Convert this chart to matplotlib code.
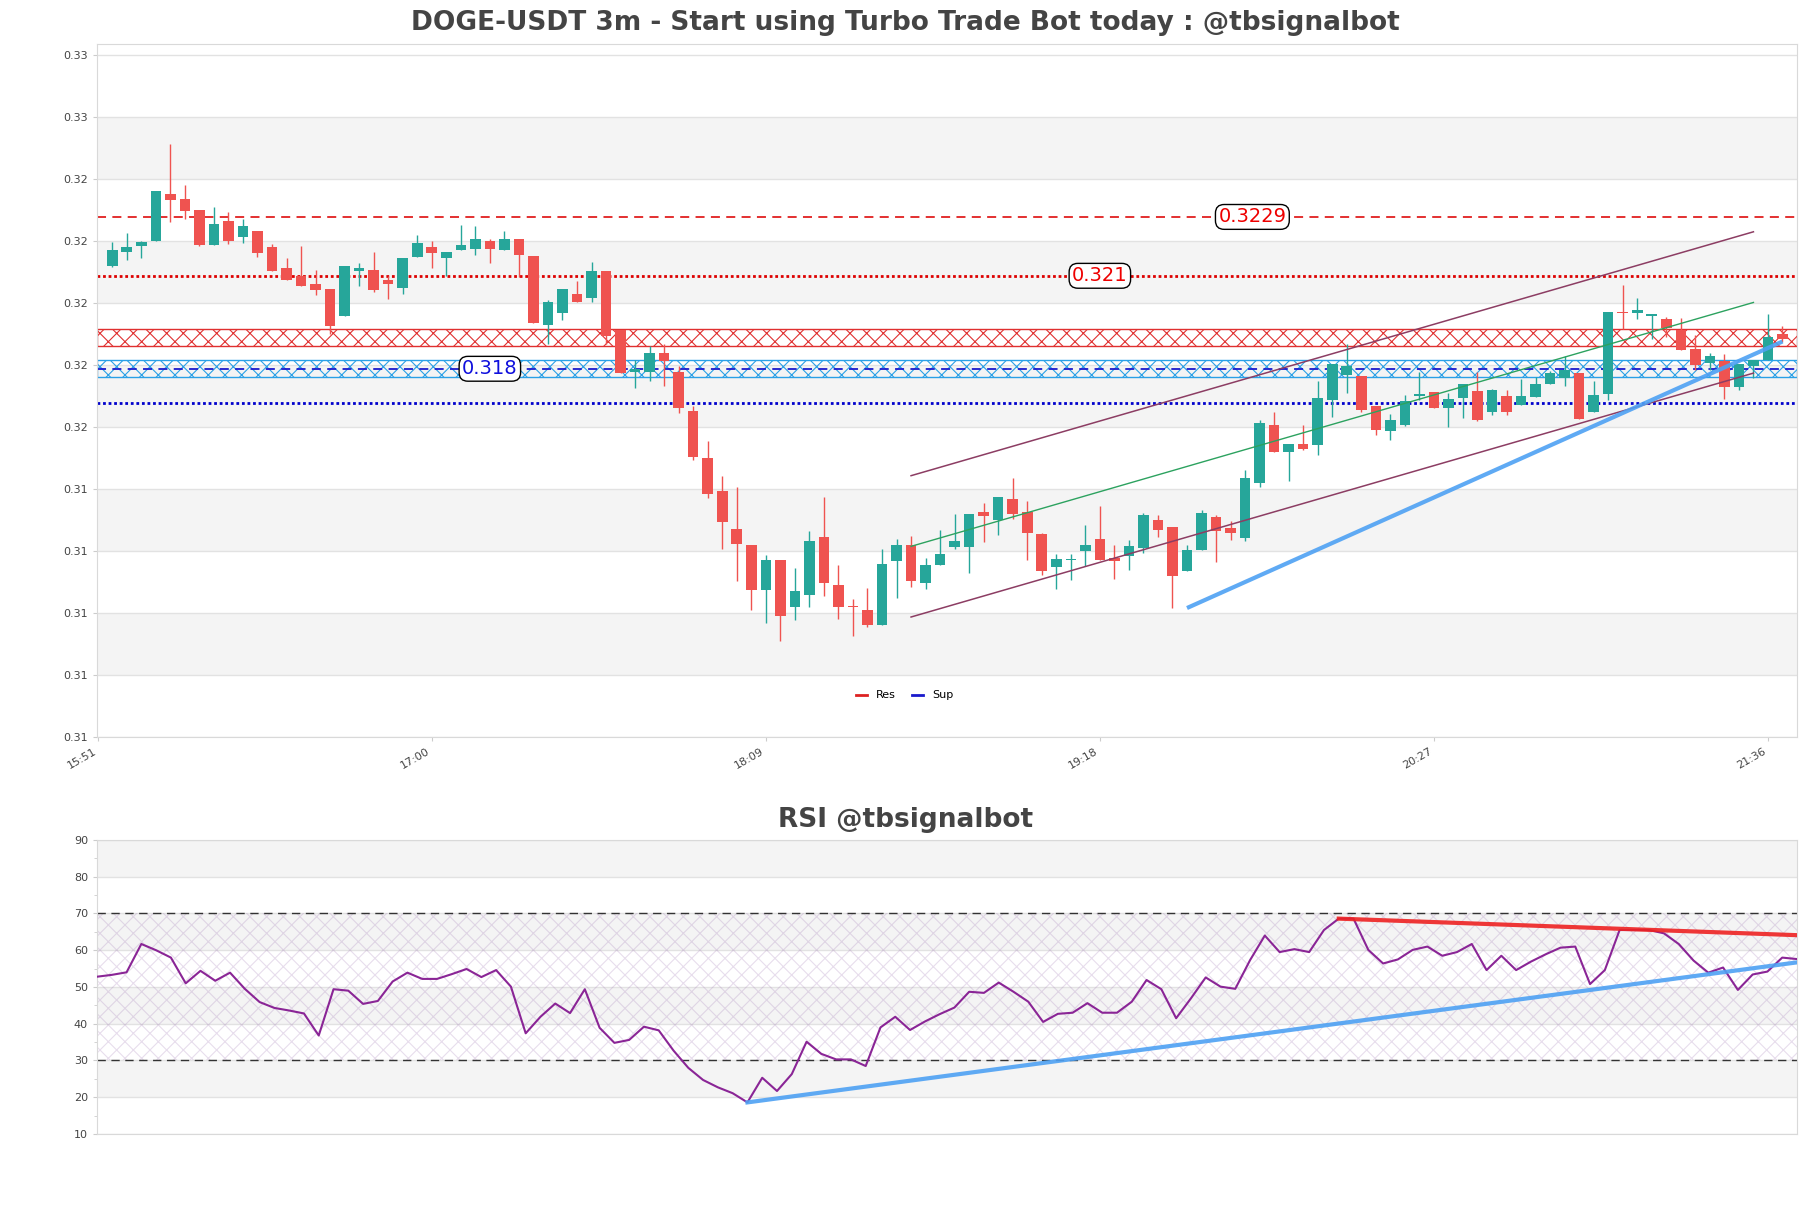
import numpy as np
import matplotlib.pyplot as plt
from matplotlib.lines import Line2D

# 3m candles, 15:54 .. 21:39 (116 bars)
opens = [0.32132, 0.32178, 0.32195, 0.32211, 0.32365, 0.32348, 0.32313, 0.32201, 0.32276, 0.32224,
         0.32245, 0.32193, 0.32126, 0.32099, 0.32074, 0.32058, 0.31969, 0.32117, 0.32119, 0.32085,
         0.32062, 0.32162, 0.32193, 0.32159, 0.32182, 0.32188, 0.32213, 0.32184, 0.32220, 0.32165,
         0.31942, 0.31979, 0.32042, 0.32027, 0.32114, 0.31924, 0.31789, 0.31791, 0.31852, 0.31790,
         0.31665, 0.31511, 0.31406, 0.31284, 0.31232, 0.31085, 0.31184, 0.31030, 0.31071, 0.31258,
         0.31103, 0.31035, 0.31023, 0.30974, 0.31179, 0.31232, 0.31108, 0.31168, 0.31225, 0.31224,
         0.31339, 0.31313, 0.31381, 0.31339, 0.31267, 0.31159, 0.31182, 0.31211, 0.31252, 0.31191,
         0.31195, 0.31222, 0.31313, 0.31290, 0.31149, 0.31214, 0.31323, 0.31286, 0.31254, 0.31433,
         0.31619, 0.31533, 0.31558, 0.31555, 0.31698, 0.31779, 0.31776, 0.31679, 0.31600, 0.31619,
         0.31713, 0.31726, 0.31672, 0.31706, 0.31729, 0.31659, 0.31712, 0.31682, 0.31708, 0.31751,
         0.31770, 0.31786, 0.31662, 0.31718, 0.31983, 0.31979, 0.31969, 0.31961, 0.31926, 0.31865,
         0.31818, 0.31824, 0.31740, 0.31808, 0.31829, 0.31912]
highs = [0.32208, 0.32239, 0.32213, 0.32374, 0.32526, 0.32394, 0.32313, 0.32323, 0.32305, 0.32284,
         0.32245, 0.32202, 0.32157, 0.32197, 0.32119, 0.32058, 0.32132, 0.32142, 0.32177, 0.32099,
         0.32158, 0.32232, 0.32211, 0.32177, 0.32265, 0.32262, 0.32219, 0.32244, 0.32220, 0.32165,
         0.32023, 0.32058, 0.32082, 0.32143, 0.32114, 0.31924, 0.31829, 0.31875, 0.31880, 0.31808,
         0.31679, 0.31568, 0.31453, 0.31417, 0.31232, 0.31200, 0.31184, 0.31158, 0.31275, 0.31385,
         0.31168, 0.31057, 0.31092, 0.31218, 0.31252, 0.31261, 0.31191, 0.31281, 0.31332, 0.31332,
         0.31368, 0.31387, 0.31449, 0.31372, 0.31269, 0.31203, 0.31202, 0.31295, 0.31356, 0.31230,
         0.31247, 0.31333, 0.31327, 0.31290, 0.31232, 0.31345, 0.31329, 0.31308, 0.31474, 0.31634,
         0.31662, 0.31558, 0.31620, 0.31761, 0.31814, 0.31881, 0.31776, 0.31679, 0.31654, 0.31716,
         0.31791, 0.31726, 0.31722, 0.31751, 0.31788, 0.31735, 0.31731, 0.31768, 0.31772, 0.31794,
         0.31842, 0.31786, 0.31761, 0.31984, 0.32071, 0.32028, 0.31976, 0.31966, 0.31965, 0.31910,
         0.31851, 0.31848, 0.31815, 0.31829, 0.31977, 0.31939]
lows = [0.32127, 0.32152, 0.32156, 0.32211, 0.32275, 0.32282, 0.32195, 0.32198, 0.32204, 0.32205,
        0.32162, 0.32114, 0.32085, 0.32066, 0.32037, 0.31912, 0.31969, 0.32066, 0.32049, 0.32024,
        0.32040, 0.32162, 0.32124, 0.32100, 0.32182, 0.32166, 0.32140, 0.32184, 0.32097, 0.31949,
        0.31880, 0.31957, 0.32014, 0.32014, 0.31880, 0.31785, 0.31738, 0.31759, 0.31746, 0.31656,
        0.31506, 0.31383, 0.31217, 0.31114, 0.31022, 0.30979, 0.30920, 0.30989, 0.31030, 0.31068,
        0.30992, 0.30939, 0.30966, 0.30974, 0.31060, 0.31095, 0.31089, 0.31168, 0.31219, 0.31141,
        0.31240, 0.31265, 0.31315, 0.31182, 0.31133, 0.31089, 0.31118, 0.31165, 0.31182, 0.31122,
        0.31151, 0.31204, 0.31256, 0.31028, 0.31146, 0.31214, 0.31176, 0.31249, 0.31245, 0.31420,
        0.31533, 0.31437, 0.31538, 0.31523, 0.31643, 0.31722, 0.31662, 0.31585, 0.31569, 0.31614,
        0.31700, 0.31673, 0.31611, 0.31640, 0.31630, 0.31652, 0.31652, 0.31682, 0.31708, 0.31751,
        0.31746, 0.31639, 0.31662, 0.31700, 0.31929, 0.31960, 0.31895, 0.31903, 0.31859, 0.31797,
        0.31797, 0.31701, 0.31733, 0.31770, 0.31829, 0.31888]
closes = [0.32184, 0.32193, 0.32208, 0.32374, 0.32343, 0.32310, 0.32198, 0.32268, 0.32213, 0.32261,
          0.32175, 0.32114, 0.32085, 0.32066, 0.32053, 0.31937, 0.32132, 0.32126, 0.32055, 0.32072,
          0.32158, 0.32206, 0.32175, 0.32177, 0.32200, 0.32219, 0.32188, 0.32219, 0.32166, 0.31949,
          0.32017, 0.32058, 0.32014, 0.32114, 0.31906, 0.31785, 0.31800, 0.31852, 0.31824, 0.31672,
          0.31514, 0.31395, 0.31304, 0.31234, 0.31085, 0.31184, 0.31001, 0.31082, 0.31243, 0.31108,
          0.31030, 0.31030, 0.30972, 0.31171, 0.31232, 0.31114, 0.31168, 0.31203, 0.31245, 0.31332,
          0.31324, 0.31387, 0.31330, 0.31269, 0.31146, 0.31186, 0.31187, 0.31232, 0.31182, 0.31179,
          0.31229, 0.31327, 0.31279, 0.31130, 0.31214, 0.31335, 0.31275, 0.31269, 0.31446, 0.31624,
          0.31533, 0.31558, 0.31542, 0.31706, 0.31814, 0.31810, 0.31668, 0.31603, 0.31635, 0.31697,
          0.31717, 0.31674, 0.31703, 0.31751, 0.31635, 0.31730, 0.31659, 0.31712, 0.31751, 0.31786,
          0.31796, 0.31639, 0.31716, 0.31984, 0.31979, 0.31990, 0.31976, 0.31931, 0.31859, 0.31813,
          0.31840, 0.31740, 0.31815, 0.31829, 0.31904, 0.31897]

rsi = [52.8, 53.3, 54.0, 61.7, 60.0, 58.0, 51.0, 54.4, 51.7, 53.9,
       49.5, 45.9, 44.3, 43.6, 42.8, 36.8, 49.4, 49.0, 45.4, 46.2,
       51.5, 53.9, 52.2, 52.2, 53.5, 54.9, 52.7, 54.6, 50.1, 37.4,
       41.9, 45.5, 42.9, 49.4, 38.9, 34.8, 35.6, 39.2, 38.2, 32.7,
       28.0, 24.7, 22.7, 21.1, 18.6, 25.3, 21.7, 26.3, 35.1, 31.8,
       30.3, 30.3, 28.5, 39.0, 41.9, 38.3, 40.6, 42.6, 44.4, 48.7,
       48.4, 51.2, 48.7, 46.0, 40.5, 42.7, 43.0, 45.6, 43.0, 43.0,
       46.0, 51.9, 49.4, 41.5, 46.9, 52.6, 50.1, 49.5, 57.3, 64.0,
       59.5, 60.3, 59.5, 65.5, 68.6, 68.6, 60.1, 56.4, 57.5, 60.1,
       61.0, 58.5, 59.5, 61.7, 54.6, 58.5, 54.6, 56.9, 58.9, 60.7,
       61.0, 50.8, 54.6, 65.5, 65.5, 65.5, 64.6, 61.7, 57.2, 53.9,
       55.3, 49.2, 53.4, 54.2, 58.0, 57.6]

time_labels = ['15:51', '17:00', '18:09', '19:18', '20:27', '21:36']
time_label_idx = [-1, 22, 45, 68, 91, 114]

# levels / zones
res_major = 0.3229
res_minor = 0.321
sup_major = 0.318
sup_minor = 0.3169
res_zone = (0.31872, 0.31928)
sup_zone = (0.31772, 0.31827)

# regression channel
chan_x = [55, 113]
chan_upper = [0.31455, 0.32242]
chan_mid = [0.31227, 0.32014]
chan_lower = [0.30999, 0.31786]

# support trendline on price
trend_x = [74, 115]
trend_y = [0.31028, 0.31888]

# rsi trendlines
rsi_sup_x = [44, 115]
rsi_sup_y = [18.6, 56.7]
rsi_res_x = [84, 115]
rsi_res_y = [68.6, 64.1]

price_ticks = np.arange(0.306118, 0.3290, 0.002)
GREEN = '#26a69a'
RED = '#ef5350'
BAND = '#f4f4f4'
GRID = '#e2e2e2'

plt.rcParams['hatch.linewidth'] = 0.8

fig = plt.figure(figsize=(18.11, 12.08), dpi=100)
ax = fig.add_axes([0.05356, 0.3899, 0.93871, 0.57368])
ax2 = fig.add_axes([0.05356, 0.06126, 0.93871, 0.24338])

for a in (ax, ax2):
    for s in a.spines.values():
        s.set_color('#d9d9d9')
    a.tick_params(colors='#cccccc', labelcolor='#444444', labelsize=8, length=3)

# ---- price panel ----
ax.set_ylim(0.30612, 0.32848)
ax.set_xlim(-1.05, 116.0)
for k in range(1, len(price_ticks) - 1, 2):
    ax.axhspan(price_ticks[k], price_ticks[k + 1], color=BAND, lw=0, zorder=0)
for t in price_ticks:
    ax.axhline(t, color=GRID, lw=1, zorder=0.5)
ax.set_yticks(price_ticks)
ax.set_yticklabels(['%.2f' % t for t in price_ticks])

ax.axhspan(*res_zone, facecolor='none', edgecolor='#e03030', hatch='xx', lw=1, zorder=1)
ax.axhspan(*sup_zone, facecolor='none', edgecolor='#2aa0e6', hatch='xx', lw=1, zorder=1)

ax.axhline(res_major, color='#e02020', lw=1.3, ls=(0, (5, 3.5)), zorder=1.5)
ax.axhline(res_minor, color='#dd0000', lw=2, ls=(0, (1, 1)), zorder=1.5)
ax.axhline(sup_major, color='#1a1acc', lw=1.3, ls=(0, (5, 3.5)), zorder=1.5)
ax.axhline(sup_minor, color='#0000cc', lw=2, ls=(0, (1, 1)), zorder=1.5)

o = np.array(opens)
c = np.array(closes)
x = np.arange(len(o))
cols = np.where(c >= o, GREEN, RED)
ax.vlines(x, lows, highs, colors=cols, lw=1, zorder=2)
ax.bar(x, np.maximum(np.abs(c - o), 0.00004), bottom=np.minimum(o, c), width=0.73,
       color=cols, lw=0, zorder=3)

ax.plot(chan_x, chan_upper, color='#8c3d63', lw=1.1, zorder=4)
ax.plot(chan_x, chan_lower, color='#8c3d63', lw=1.1, zorder=4)
ax.plot(chan_x, chan_mid, color='#2ca25f', lw=1, zorder=4)
ax.plot(trend_x, trend_y, color='#4ea1f3', lw=3, alpha=0.9, zorder=4, solid_capstyle='butt')

box = dict(boxstyle='round,pad=0.15,rounding_size=0.45', fc='white', ec='black', lw=1)
ax.text(78.5, res_major, '%.4f' % res_major, color='#ee0000', fontsize=14,
        ha='center', va='center', bbox=box, zorder=5)
ax.text(68, res_minor, '%.3f' % res_minor, color='#ee0000', fontsize=14,
        ha='center', va='center', bbox=box, zorder=5)
ax.text(26, sup_major, '%.3f' % sup_major, color='#1010dd', fontsize=14,
        ha='center', va='center', bbox=box, zorder=5)

ax.set_xticks(time_label_idx)
ax.set_xticklabels(time_labels, rotation=30, ha='right')

ax.legend(handles=[Line2D([], [], color='#dd2222', lw=2), Line2D([], [], color='#1a1acc', lw=2)],
          labels=['Res', 'Sup'], loc='center', bbox_to_anchor=(0.475, 0.06), ncol=2,
          frameon=False, fontsize=8, handlelength=1, columnspacing=1.5)

# ---- RSI panel ----
ax2.set_ylim(10, 90)
ax2.set_xlim(0, len(rsi) - 1)
rsi_ticks = np.arange(10, 91, 10)
for k in range(1, len(rsi_ticks) - 1, 2):
    ax2.axhspan(rsi_ticks[k], rsi_ticks[k + 1], color=BAND, lw=0, zorder=0)
for t in rsi_ticks:
    ax2.axhline(t, color=GRID, lw=1, zorder=0.5)
ax2.fill_between([0, len(rsi) - 1], 30, 70, facecolor='none', edgecolor=(0.55, 0.35, 0.65, 0.2),
                 hatch='xx', lw=0, zorder=1)
ax2.axhline(70, color='#333333', lw=1, ls=(0, (6, 4)), zorder=1.5)
ax2.axhline(30, color='#333333', lw=1, ls=(0, (6, 4)), zorder=1.5)
ax2.set_yticks(rsi_ticks)
ax2.set_yticks(np.arange(15, 90, 10), minor=True)
ax2.tick_params(which='minor', length=2, colors='#cccccc')
ax2.set_xticks([])

ax2.plot(np.arange(len(rsi)), rsi, color='#8a2596', lw=1.5, zorder=3)
ax2.plot(rsi_sup_x, rsi_sup_y, color='#4ea1f3', lw=3, alpha=0.9, zorder=4)
ax2.plot(rsi_res_x, rsi_res_y, color='#ee2222', lw=3, alpha=0.9, zorder=4)

fig.text(0.5, 0.981, 'DOGE-USDT 3m - Start using Turbo Trade Bot today : @tbsignalbot',
         ha='center', va='center', fontsize=19, fontweight='bold', color='#444444')
fig.text(0.5, 0.321, 'RSI @tbsignalbot', ha='center', va='center',
         fontsize=19, fontweight='bold', color='#444444')

fig.savefig('out.png', dpi=100)
